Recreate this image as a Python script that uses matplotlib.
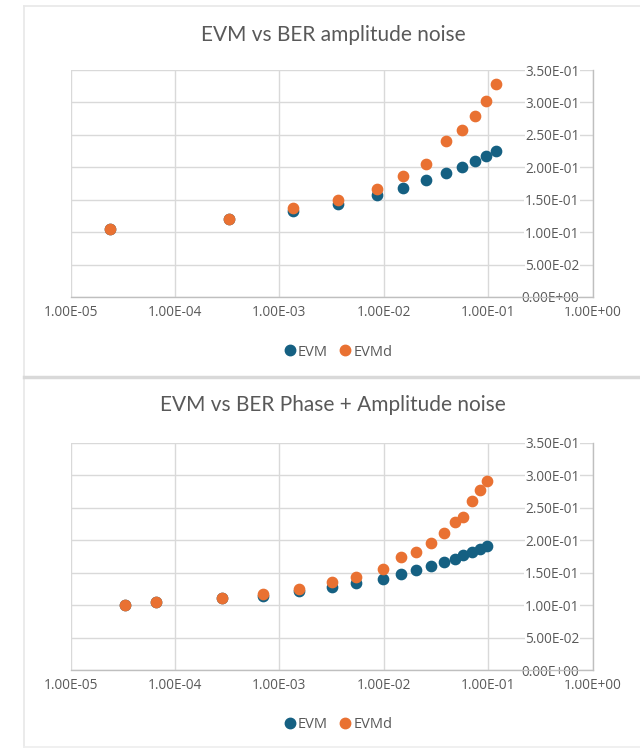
import matplotlib.pyplot as plt
from matplotlib.lines import Line2D
from matplotlib.ticker import FuncFormatter, FixedLocator
import numpy as np

plt.rcParams['font.family'] = ['Open Sans', 'DejaVu Sans']

# amplitude noise
ber_amp = [2.39e-5, 3.29e-4, 1.34e-3, 3.67e-3, 8.55e-3, 1.52e-2, 2.54e-2,
           3.92e-2, 5.56e-2, 7.55e-2, 9.55e-2, 1.197e-1]
evm_amp = [0.1055, 0.1197, 0.132, 0.144, 0.1576, 0.1688, 0.180,
           0.1908, 0.2006, 0.2093, 0.2175, 0.2246]
evmd_amp = [0.1055, 0.1197, 0.1366, 0.150, 0.1668, 0.1868, 0.2057,
            0.241, 0.2574, 0.279, 0.3029, 0.328]

# phase + amplitude noise
ber_pa = [3.34e-5, 6.62e-5, 2.79e-4, 6.95e-4, 1.55e-3, 3.21e-3, 5.40e-3,
          9.9e-3, 1.47e-2, 2.03e-2, 2.83e-2, 3.81e-2, 4.82e-2, 5.77e-2,
          7.04e-2, 8.28e-2, 9.72e-2]
evm_pa = [0.1001, 0.1052, 0.1104, 0.114, 0.1212, 0.1278, 0.134,
          0.140, 0.148, 0.1535, 0.1597, 0.1663, 0.1714, 0.1766,
          0.1817, 0.1858, 0.1905]
evmd_pa = [0.1001, 0.1052, 0.1104, 0.117, 0.1252, 0.1355, 0.1427,
           0.155, 0.174, 0.1817, 0.1956, 0.211, 0.2284, 0.236,
           0.2613, 0.278, 0.292]

titles = ['EVM vs BER amplitude noise', 'EVM vs BER Phase + Amplitude noise']
xticks = [1e-5, 1e-4, 1e-3, 1e-2, 1e-1, 1e0]
yticks = [0.0, 0.05, 0.10, 0.15, 0.20, 0.25, 0.30, 0.35]

BLUE = '#156082'
ORANGE = '#E97132'
TXT = '#595959'
GRID = '#d9d9d9'
AXL = '#bfbfbf'

W, H = 640, 749
fig = plt.figure(figsize=(W / 100, H / 100), dpi=100)
fig.patch.set_facecolor('white')


def fx(px):
    return px / W


def fy(py):
    return 1 - py / H


# panel frame lines (screenshot borders)
fig.add_artist(Line2D([fx(24), fx(24)], [fy(6), fy(747)], color='#e8e8e8', lw=1.2))
fig.add_artist(Line2D([fx(24), 1], [fy(6), fy(6)], color='#e8e8e8', lw=1.2))
fig.add_artist(Line2D([fx(24), 1], [fy(377), fy(377)], color='#d9d9d9', lw=2.5))
fig.add_artist(Line2D([fx(24), 1], [fy(747), fy(747)], color='#eeeeee', lw=1.2))

panels = [
    (ber_amp, evm_amp, evmd_amp, 70, 297, 35, 352),
    (ber_pa, evm_pa, evmd_pa, 443, 670, 405, 725),
]

for (ber, evm, evmd, top, bot, ty, ly), title in zip(panels, titles):
    ax = fig.add_axes([fx(70.6), fy(bot), fx(592.6 - 70.6), (bot - top) / H])
    ax.set_xscale('log')
    ax.set_xlim(1e-5, 1e0)
    ax.set_ylim(0, 0.35)
    ax.xaxis.set_major_locator(FixedLocator(xticks))
    ax.xaxis.set_minor_locator(FixedLocator([]))
    ax.set_yticks(yticks)
    ax.xaxis.set_major_formatter(FuncFormatter(lambda v, p: f'{v:.2E}'))
    ax.yaxis.set_major_formatter(FuncFormatter(lambda v, p: f'{v:.2E}'))
    ax.grid(True, color=GRID, lw=1.0, zorder=0)
    ax.set_axisbelow(True)
    for s in ['left', 'top']:
        ax.spines[s].set_visible(False)
    for s in ['right', 'bottom']:
        ax.spines[s].set_color(AXL)
        ax.spines[s].set_linewidth(1.0)
    ax.yaxis.tick_right()
    ax.tick_params(axis='both', length=0, labelsize=9.8, labelcolor=TXT)
    ax.tick_params(axis='x', pad=6)
    ax.tick_params(axis='y', pad=-9.5)
    for lbl in ax.get_yticklabels():
        lbl.set_horizontalalignment('right')
        lbl.set_bbox(dict(facecolor='white', edgecolor='none', pad=0.3))
    ax.scatter(ber, evm, s=55, color=BLUE, zorder=3, clip_on=False, label='EVM')
    ax.scatter(ber, evmd, s=55, color=ORANGE, zorder=4, clip_on=False, label='EVMd')

    fig.text(fx(333), fy(ty), title, ha='center', va='center',
             fontsize=15, color=TXT, family=['Lato', 'DejaVu Sans'])
    fig.legend(handles=[
        Line2D([], [], marker='o', ls='none', color=BLUE, markersize=7.5, label='EVM'),
        Line2D([], [], marker='o', ls='none', color=ORANGE, markersize=7.5, label='EVMd')],
        loc='center', bbox_to_anchor=(fx(338), fy(ly)), ncol=2, frameon=False,
        fontsize=10.5, labelcolor=TXT, handletextpad=0.15, columnspacing=0.8,
        handlelength=0.8)

fig.savefig('out.png', dpi=100)
